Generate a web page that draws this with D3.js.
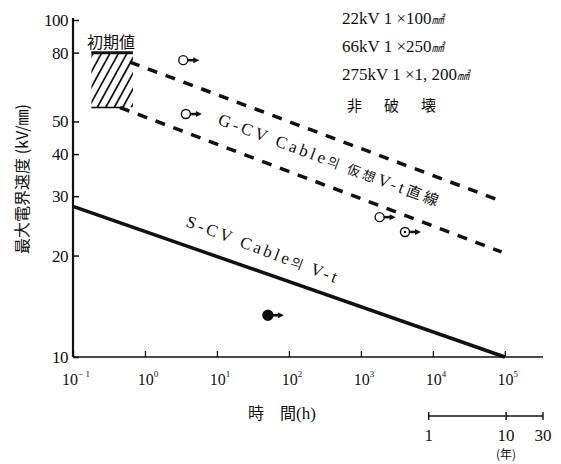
<!DOCTYPE html>
<html>
<head>
<meta charset="utf-8">
<script src="https://cdn.jsdelivr.net/npm/d3@7"></script>
<style>
  body { margin: 0; background: #fff; }
  svg { display: block; }
  text { font-family: "Liberation Serif", "Noto Sans CJK JP", serif; fill: #111; }
  .cjk { font-family: "Noto Sans CJK JP", sans-serif; }
</style>
</head>
<body>
<svg width="561" height="464"></svg>
<script>
  // data
  const xTickExps = [-1, 0, 1, 2, 3, 4, 5];
  const yTicks = [10, 20, 30, 40, 50, 80, 100];
  const scvLine = [{ t: 0.1, e: 28 }, { t: 1e5, e: 10 }];
  const gcvUpper = [{ t: 0.62, e: 75 }, { t: 9e4, e: 29 }];
  const gcvLower = [{ t: 0.45, e: 55 }, { t: 9e4, e: 20.5 }];
  const initialBox = { t0: 0.18, t1: 0.68, e0: 55, e1: 80 };
  const points = [
    { t: 3.4, e: 76, kind: 'open' },
    { t: 3.7, e: 52.6, kind: 'open' },
    { t: 1820, e: 26, kind: 'open' },
    { t: 4100, e: 23.5, kind: 'dot' },
    { t: 51, e: 13.3, kind: 'filled' }
  ];
  const legendLines = ['22kV 1 ×100', '66kV  1 ×250', '275kV  1 ×1, 200'];
  const yearTicks = [1, 10, 30];

  const svg = d3.select('svg');
  svg.append('rect').attr('width', 561).attr('height', 464).attr('fill', '#fff');

  const x = d3.scaleLog().domain([0.1, Math.pow(10, 5.53)]).range([73, 543]);
  const y = d3.scaleLog().domain([10, 100]).range([357, 20]);

  // axes
  const yAxis = svg.append('g').attr('transform', `translate(${x(0.1)},0)`)
    .call(d3.axisRight(y).tickValues(yTicks).tickSize(6).tickFormat(''));
  yAxis.select('.domain').remove();
  yAxis.selectAll('line').attr('stroke', '#111').attr('stroke-width', 1.5);
  svg.append('line').attr('x1', x(0.1)).attr('x2', x(0.1))
    .attr('y1', y(100) - 2).attr('y2', y(10))
    .attr('stroke', '#111').attr('stroke-width', 2.2);

  svg.selectAll('.ylab').data(yTicks).enter().append('text')
    .attr('x', x(0.1) - 5).attr('y', d => y(d) + 6)
    .attr('text-anchor', 'end').attr('font-size', 17)
    .attr('letter-spacing', -0.5)
    .text(d => d);

  const xAxis = svg.append('g').attr('transform', `translate(0,${y(10)})`)
    .call(d3.axisTop(x).tickValues(xTickExps.map(p => Math.pow(10, p))).tickSize(6).tickFormat(''));
  xAxis.select('.domain').attr('stroke', '#111').attr('stroke-width', 1.6).attr('d', `M${x(0.1)},0H${x.range()[1]}`);
  xAxis.selectAll('line').attr('stroke', '#111').attr('stroke-width', 1.3);

  const xl = svg.selectAll('.xlab').data(xTickExps).enter().append('text')
    .attr('x', p => x(Math.pow(10, p)) + 3).attr('y', 385)
    .attr('text-anchor', 'middle').attr('font-size', 16);
  xl.append('tspan').text('10');
  xl.append('tspan').attr('dy', -8).attr('font-size', 9)
    .text(p => p < 0 ? '\u2212 ' + (-p) : p);

  svg.append('text').attr('class', 'cjk').attr('x', 248).attr('y', 419)
    .attr('font-size', 16).text('時　間');
  svg.append('text').attr('x', 296).attr('y', 419).attr('font-size', 17).text('(h)');

  // y label
  svg.append('text').attr('transform', 'translate(28,179) rotate(-90)')
    .attr('text-anchor', 'middle').attr('font-size', 16)
    .attr('class', 'cjk').text('最大電界速度 (kV/㎜)');

  // year scale
  const yr = d3.scaleLog().domain([1, 30]).range([x(8760), 543]);
  svg.append('line').attr('x1', yr(1)).attr('x2', yr(30)).attr('y1', 416).attr('y2', 416)
    .attr('stroke', '#111').attr('stroke-width', 1.6);
  svg.selectAll('.ytk').data(yearTicks).enter().append('line')
    .attr('x1', d => yr(d)).attr('x2', d => yr(d)).attr('y1', 412).attr('y2', 420)
    .attr('stroke', '#111').attr('stroke-width', 1.4);
  svg.selectAll('.ytl').data(yearTicks).enter().append('text')
    .attr('x', d => yr(d)).attr('y', 441).attr('text-anchor', 'middle')
    .attr('font-size', 17).text(d => d);
  svg.append('text').attr('class', 'cjk').attr('x', yr(10)).attr('y', 459)
    .attr('text-anchor', 'middle').attr('font-size', 12).text('(年)');

  // lines
  const line = d3.line().x(d => x(d.t)).y(d => y(d.e));
  svg.append('path').datum(scvLine).attr('d', line)
    .attr('fill', 'none').attr('stroke', '#111').attr('stroke-width', 3.5);
  [gcvUpper, gcvLower].forEach(s => {
    svg.append('path').datum(s).attr('d', line)
      .attr('fill', 'none').attr('stroke', '#111').attr('stroke-width', 3.5)
      .attr('stroke-dasharray', '10,9');
  });

  // hatched initial range box
  const bx0 = x(initialBox.t0), bx1 = x(initialBox.t1);
  const by0 = y(initialBox.e1), by1 = y(initialBox.e0);
  const rise = (by1 - by0) * 0.55;
  svg.append('clipPath').attr('id', 'boxclip').append('rect')
    .attr('x', bx0).attr('y', by0).attr('width', bx1 - bx0).attr('height', by1 - by0);
  const hatch = svg.append('g').attr('clip-path', 'url(#boxclip)');
  d3.range(bx0 - rise + 2, bx1 + 2, 8.5).forEach(h => {
    hatch.append('line').attr('x1', h).attr('y1', by1).attr('x2', h + rise).attr('y2', by0)
      .attr('stroke', '#111').attr('stroke-width', 1.7);
  });
  svg.append('line').attr('x1', bx0).attr('x2', bx1).attr('y1', by0).attr('y2', by0)
    .attr('stroke', '#111').attr('stroke-width', 3);
  svg.append('line').attr('x1', bx0).attr('x2', x(gcvLower[0].t)).attr('y1', by1).attr('y2', by1)
    .attr('stroke', '#111').attr('stroke-width', 1.6);
  svg.append('text').attr('class', 'cjk').attr('x', 87).attr('y', 48)
    .attr('font-size', 16).text('初期値');

  // points with arrows
  const pg = svg.selectAll('.pt').data(points).enter().append('g')
    .attr('transform', d => `translate(${x(d.t)},${y(d.e)})`);
  pg.append('line').attr('x1', 4).attr('x2', 11).attr('y1', 0).attr('y2', 0)
    .attr('stroke', '#111').attr('stroke-width', 2.5);
  pg.append('path').attr('d', 'M10,-3L16,0L10,3Z').attr('fill', '#111');
  pg.append('circle').attr('r', d => d.kind === 'filled' ? 5 : 4.5)
    .attr('fill', d => d.kind === 'filled' ? '#111' : '#fff')
    .attr('stroke', '#111').attr('stroke-width', 1.4);
  pg.filter(d => d.kind === 'dot').append('circle').attr('r', 1.2).attr('fill', '#111');

  // rotated labels
  const g1 = svg.append('text').attr('transform', 'translate(217,124) rotate(20.6)')
    .attr('font-size', 17).attr('textLength', 234).attr('lengthAdjust', 'spacing');
  g1.append('tspan').text('G-CV Cable');
  g1.append('tspan').attr('class', 'cjk').attr('font-size', 13).text('의 仮想');
  g1.append('tspan').text('V-t');
  g1.append('tspan').attr('class', 'cjk').attr('font-size', 15).text('直線');

  const g2 = svg.append('text').attr('transform', 'translate(185,226) rotate(20.8)')
    .attr('font-size', 17).attr('textLength', 160).attr('lengthAdjust', 'spacing');
  g2.append('tspan').text('S-CV Cable');
  g2.append('tspan').attr('class', 'cjk').attr('font-size', 13).text('의 ');
  g2.append('tspan').text(' V-t');

  // legend
  legendLines.forEach((s, i) => {
    const t = svg.append('text').attr('x', 342).attr('y', 24 + i * 28).attr('font-size', 17);
    t.append('tspan').text(s);
    t.append('tspan').attr('class', 'cjk').attr('font-size', 12).attr('font-style', 'italic').text('㎟');
  });
  svg.append('text').attr('class', 'cjk').attr('x', 347).attr('y', 111)
    .attr('font-size', 15).attr('letter-spacing', 22).text('非破壊');
</script>
</body>
</html>
